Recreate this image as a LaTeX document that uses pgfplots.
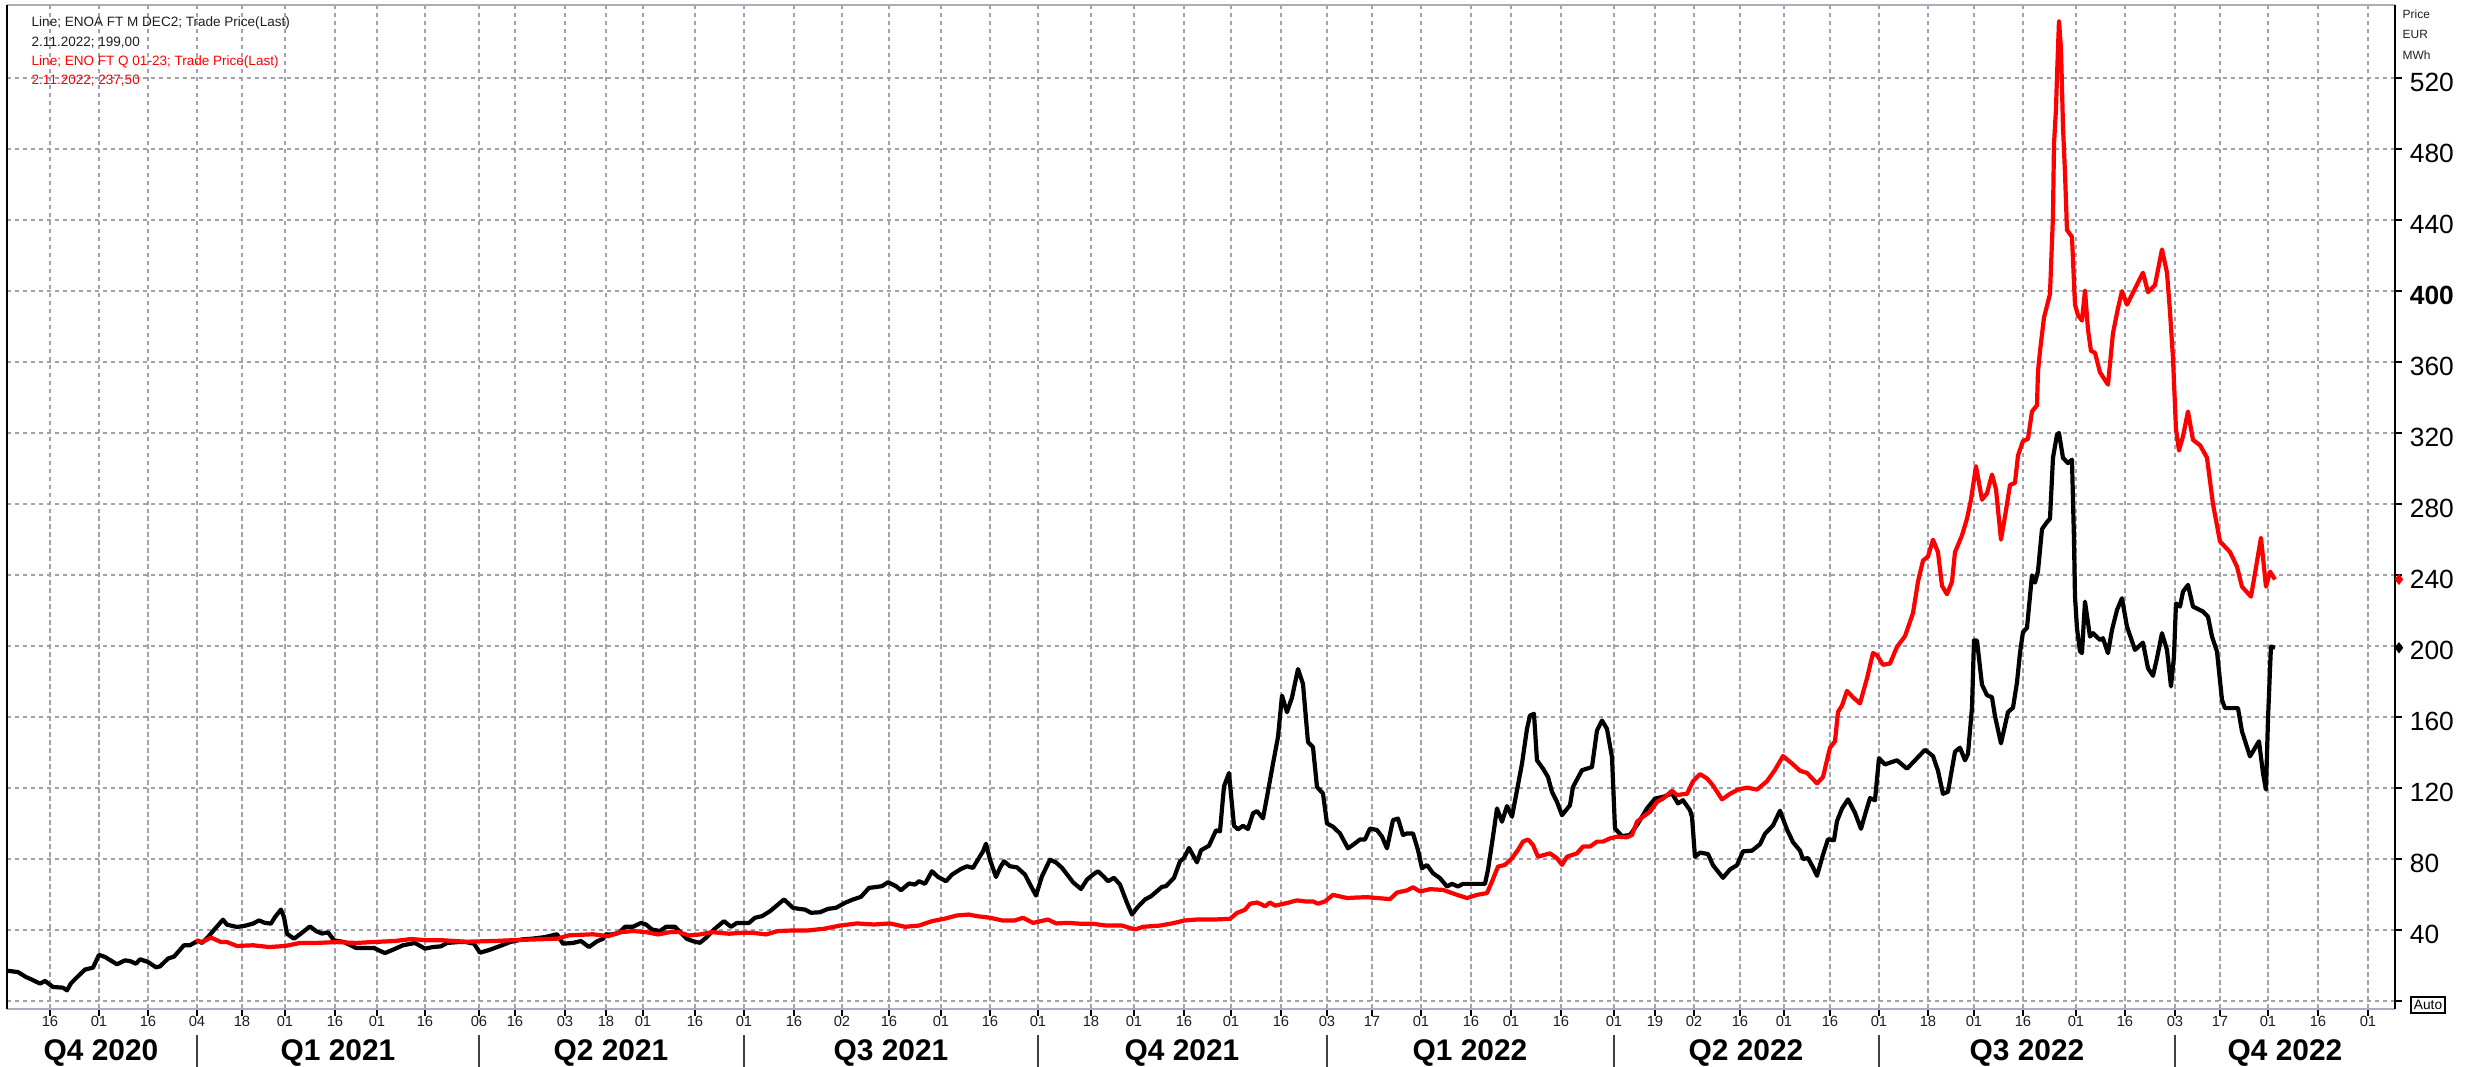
\documentclass[border=0pt]{standalone}
\usepackage{pgfplots}
\pgfplotsset{compat=1.18}
\usepackage{graphicx}
\usepackage{fontspec}
\setmainfont{Liberation Sans}
\definecolor{gridc}{RGB}{160,160,174}
\definecolor{framec}{RGB}{172,172,188}
\definecolor{lgdark}{RGB}{30,30,30}
\newcommand\autolab{{\setlength\fboxsep{0.6pt}\setlength\fboxrule{0.55pt}\fbox{\fontsize{3.9}{4.2}\selectfont Auto}}}
\begin{document}
\begin{tikzpicture}[x=0.1mm,y=0.1mm]
\begin{axis}[
  width=238.8mm, height=100.4mm, scale only axis,
  xmin=7, xmax=2395, ymin=-4.5, ymax=561.1,
  separate axis lines,
  x axis line style={framec, line width=0.15mm},
  y axis line style={black, line width=0.18mm},
  grid=major,
  major grid style={gridc, dash pattern=on 0.45mm off 0.35mm, line width=0.13mm},
  xtick={50,99,148,197,242,285,335,377,425,479,515,565,606,643,695,744,794,842,889,941,990,1038,1091,1134,1184,1231,1281,1327,1372,1421,1471,1511,1561,1614,1655,1694,1740,1784,1830,1879,1928,1974,2023,2076,2125,2175,2220,2268,2318,2368},
  xticklabels={16,01,16,04,18,01,16,01,16,06,16,03,18,01,16,01,16,02,16,01,16,01,18,01,16,01,16,03,17,01,16,01,16,01,19,02,16,01,16,01,18,01,16,01,16,03,17,01,16,01},
  ytick={0,40,...,520},
  yticklabels={\autolab,40,80,120,160,200,240,280,320,360,\textbf{400},440,480,520},
  xtick pos=bottom, ytick pos=right,
  yticklabel pos=right,
  tick align=outside, major tick length=0.7mm,
  tick style={black, line width=0.15mm},
  xticklabel style={font=\fontsize{4.2}{5}\selectfont, text=lgdark, anchor=center, yshift=-0.5mm},
  yticklabel style={font=\fontsize{7.5}{8}\selectfont, anchor=west, xshift=-0.45mm, yshift=-0.4mm},
  clip=false,
]
\coordinate (O) at (rel axis cs:0,0);
\addplot[black, line width=0.42mm, line join=round] coordinates {
(8,17)(18,16.3)(26,13.5)(32,12)(40,9.8)(45,11.3)(53,7.9)(63,7.5)(67,6)(71,10)(79,14.5)(85,17.7)(93,18.8)(99,26)(105,24.8)(117,20.7)(125,22.9)(130,22.5)(136,21)(140,23.5)(148,22)(156,19)(160,19.5)(168,23.9)(174,25)(184,31.4)(190,31.4)(198,34)(202,32.7)(208,36)(215,40.7)(223,45.8)(227,43)(237,41.7)(245,42.4)(253,43.6)(259,45.4)(265,44)(271,43.6)(275,47.3)(281,51.5)(284,47.3)(287,37.9)(294,35.1)(300,37.6)(310,42)(316,39.4)(322,38)(328,38.7)(334,34.2)(344,33.2)(356,29.9)(374,29.9)(379,28.5)(385,27)(393,28.9)(403,31.4)(415,32.7)(425,29.5)(433,30.4)(441,30.8)(447,32.7)(458,33.2)(466,33.2)(474,32.3)(480,27.2)(490,28.9)(502,31.4)(510,33.2)(522,34.7)(532,35.1)(545,36)(557,37.6)(563,32.3)(573,32.7)(581,33.8)(589,30.4)(597,33.6)(603,35.1)(606,37.5)(612,37.5)(619,38.4)(625,41.8)(633,41.8)(641,44)(646,43.1)(652,40.3)(660,39.4)(666,41.8)(675,41.8)(681,38.4)(687,35)(693,33.7)(700,32.8)(706,35.6)(714,40.3)(724,45)(731,41.8)(737,44)(749,44)(755,46.9)(762,47.8)(770,50.6)(776,53.4)(784,57.2)(793,52.5)(799,51.9)(805,51.5)(811,49.7)(820,50)(828,51.9)(836,52.5)(845,55.3)(853,57.2)(861,58.7)(869,63.7)(882,64.7)(888,66.9)(896,64.7)(901,62.4)(909,66.2)(915,65.6)(919,67.5)(925,66)(932,73.1)(938,69.9)(946,67.5)(952,71.2)(961,74.4)(967,75.9)(973,75)(979,80.6)(983,84.3)(986,88.6)(990,79.6)(996,69.9)(1000,75)(1004,78.7)(1010,75.9)(1017,75.3)(1025,71.2)(1031,64.7)(1036,59.4)(1042,70.3)(1050,79.6)(1056,78.1)(1062,75)(1066,72.1)(1073,66.9)(1081,63.1)(1087,68.4)(1093,71.2)(1098,73.1)(1104,69.9)(1108,67.5)(1114,69.4)(1120,65.6)(1127,55.3)(1132,48.7)(1137,52.5)(1145,57.2)(1151,59)(1162,64.3)(1166,64.7)(1174,69.4)(1180,78.7)(1184,80.6)(1189,86.2)(1197,78.1)(1201,84.9)(1209,87.5)(1216,96.1)(1220,95.6)(1224,120.9)(1229,128.4)(1234,98.8)(1238,96.7)(1243,98.7)(1248,96.9)(1253,105.7)(1257,107)(1263,102.9)(1267,115)(1273,133.7)(1278,148.7)(1282,172)(1287,162.7)(1292,171)(1298,187)(1303,178.6)(1308,145.9)(1313,143)(1317,120.6)(1323,116.9)(1327,100)(1333,98.2)(1340,94.4)(1348,86)(1355,88.8)(1360,91)(1365,91)(1370,97.2)(1377,96.3)(1382,92.6)(1387,86)(1393,101.9)(1398,102.8)(1403,93.5)(1407,94.4)(1413,94.4)(1418,85)(1422,74.8)(1427,76.6)(1433,72)(1440,69.2)(1447,64.5)(1452,66)(1458,64.5)(1463,66)(1485,66)(1488,73.9)(1493,92.6)(1497,108.5)(1502,101)(1507,109.8)(1512,103.8)(1517,118.7)(1522,133.7)(1527,153.3)(1530,160.8)(1534,161.8)(1537,135.6)(1543,130.9)(1548,126.2)(1552,117.8)(1557,112.2)(1562,104.7)(1570,110.3)(1573,120.6)(1582,130)(1592,131.8)(1597,152.4)(1602,158)(1607,153.3)(1612,137.4)(1615,97.2)(1622,92.9)(1630,93.5)(1638,100)(1647,108.5)(1655,114)(1663,115)(1672,116.9)(1678,111.3)(1683,113.1)(1690,107.5)(1692,103.8)(1695,81.2)(1700,83.6)(1708,82.8)(1713,76.5)(1723,69.4)(1730,74.1)(1737,76.5)(1743,84.3)(1752,84.7)(1760,88.3)(1765,94.2)(1773,98.9)(1780,107.2)(1787,96.6)(1793,89.5)(1800,84.7)(1803,80)(1808,80.5)(1813,75.3)(1817,70.5)(1823,82.4)(1828,91.1)(1834,90.6)(1837,101.3)(1842,108.4)(1848,113.6)(1855,106)(1861,97)(1865,104.9)(1870,114.3)(1875,113.1)(1879,136.8)(1885,133.3)(1897,135.6)(1907,130.9)(1913,134.4)(1925,141.5)(1933,138)(1938,129.7)(1943,116.7)(1948,117.9)(1955,140.4)(1960,142.7)(1965,135.6)(1968,139.2)(1972,165.2)(1974,203.1)(1977,203.1)(1982,178.2)(1987,172.3)(1992,171.1)(1995,160.5)(2001,145.1)(2008,162.8)(2013,165.2)(2017,179.4)(2020,196)(2023,207.8)(2027,210.2)(2032,239.8)(2035,235.7)(2038,242.1)(2042,265.8)(2047,269.8)(2050,271.7)(2053,306)(2057,319)(2059,320)(2063,306)(2068,303)(2072,305)(2074,260)(2075,228)(2077,210)(2080,197)(2082,196)(2085,225)(2090,205.3)(2093,207.2)(2100,203.4)(2103,204.4)(2108,196)(2112,209)(2117,220.3)(2122,226.9)(2127,210.9)(2135,197.8)(2143,201.9)(2148,187.5)(2153,183.2)(2157,193.1)(2162,207.2)(2167,197.8)(2171,177.2)(2174,194.1)(2176,224)(2180,222.2)(2183,230.6)(2188,234.4)(2193,222.2)(2203,219.4)(2208,216.6)(2212,205.3)(2217,196.9)(2222,169.7)(2225,165)(2238,165)(2242,151.9)(2250,137.8)(2259,146.3)(2263,128.4)(2266,119.1)(2268,158.4)(2270,186.6)(2271,199.7)(2275,199)
};
\addplot[red, line width=0.42mm, line join=round] coordinates {
(196,34.2)(202,33.2)(211,35.7)(221,33.2)(227,33.2)(237,31)(253,31.4)(269,30.4)(285,31)(300,32.7)(316,32.7)(336,33.2)(356,32.7)(372,33.2)(395,33.8)(411,34.9)(427,34.2)(443,34.2)(466,33.4)(494,33.8)(510,34.2)(530,34.6)(557,35.1)(569,37)(593,37.6)(608,36.5)(621,38.8)(633,39.4)(646,38.8)(658,37.5)(670,38.8)(679,38.8)(689,36.9)(700,37.5)(712,38.8)(729,37.9)(741,38.4)(753,38.4)(766,37.5)(778,39.4)(791,39.7)(807,39.7)(824,40.7)(840,42.5)(857,43.7)(874,43.1)(890,43.7)(905,41.8)(919,42.5)(932,45)(944,46.3)(957,48.2)(969,48.7)(977,47.8)(990,46.9)(1002,45.4)(1015,45.4)(1023,46.9)(1033,44)(1048,45.9)(1056,43.7)(1068,44)(1081,43.5)(1093,43.5)(1106,42.5)(1122,42.5)(1135,40.3)(1143,41.8)(1160,42.5)(1172,43.7)(1185,45.4)(1197,45.9)(1214,45.9)(1230,46.3)(1237,49.6)(1245,51.4)(1250,54.8)(1257,55.5)(1262,54.3)(1265,53.3)(1270,55.5)(1275,53.7)(1287,55.2)(1297,56.7)(1305,56.1)(1313,56.1)(1318,54.8)(1325,56.1)(1333,59.8)(1347,58)(1357,58.3)(1367,58.5)(1377,58)(1390,57.4)(1397,61.1)(1407,62.3)(1413,64.1)(1420,61.7)(1430,63)(1443,62.6)(1457,59.8)(1467,58)(1477,59.8)(1487,60.8)(1492,67.3)(1498,75.7)(1505,76.7)(1512,80.4)(1518,85.1)(1523,89.8)(1528,91)(1533,87.9)(1538,81.3)(1550,83.2)(1557,80.4)(1562,76.7)(1567,81.3)(1577,83.2)(1583,87)(1590,87)(1597,89.8)(1603,89.8)(1610,91.6)(1617,92.6)(1627,92.2)(1632,93.5)(1637,101)(1643,103.8)(1650,106.6)(1657,112.2)(1663,114)(1672,118.4)(1677,116)(1683,116.5)(1687,116.7)(1693,123.8)(1700,127.8)(1707,125.4)(1713,121.4)(1722,113.6)(1730,116.7)(1738,119.1)(1747,120.2)(1757,119.1)(1767,123.8)(1775,130.2)(1783,138)(1793,133.3)(1800,129.7)(1807,128.5)(1817,122.6)(1823,126.2)(1830,142.7)(1835,146.3)(1838,162.8)(1842,166.4)(1847,174.7)(1853,171.1)(1860,167.6)(1867,181.8)(1873,196)(1877,194.8)(1883,189.4)(1890,190.1)(1897,199.5)(1905,205.5)(1913,218.5)(1918,236.2)(1923,248.1)(1928,250.4)(1933,259.9)(1938,252.8)(1942,233.9)(1947,229.1)(1952,236.2)(1955,252.8)(1962,262.3)(1967,271.7)(1971,282.4)(1976,301.3)(1982,282.4)(1987,286)(1992,296.6)(1996,288.3)(2001,259.9)(2005,272.9)(2010,290.7)(2015,291.9)(2018,307.3)(2023,315.5)(2028,316.7)(2032,332.1)(2037,335.6)(2038,354.6)(2040,366)(2044,385)(2050,398.3)(2053,442.4)(2054,482.5)(2056,502.6)(2057,520.6)(2059,552)(2061,536.6)(2063,492.5)(2065,466.5)(2067,434.4)(2072,430.4)(2075,392.3)(2078,386.3)(2082,383.3)(2085,400.3)(2088,378.3)(2091,366.2)(2095,365.2)(2100,354.2)(2108,347.2)(2113,376.3)(2118,390.3)(2122,399.9)(2127,392.3)(2135,401.3)(2143,410.3)(2148,399.3)(2155,403.3)(2162,423.4)(2167,410.3)(2170,388.3)(2173,362.2)(2176,322.1)(2179,310.1)(2183,318.1)(2188,332.1)(2193,316.1)(2200,313.1)(2207,306.1)(2213,280)(2220,258.9)(2230,252.9)(2237,244.7)(2242,233.4)(2251,227.8)(2255,240.9)(2261,261)(2266,233.4)(2270,241.9)(2275,237.5)
};
\addplot[only marks, mark=diamond*, mark size=0.45mm, red] coordinates {(2399,237.5)};
\addplot[only marks, mark=diamond*, mark size=0.45mm, black] coordinates {(2399,199)};
\pgfplotsinvokeforeach{197,479,744,1038,1327,1614,1879,2175}{
  \draw[black!75, line width=0.2mm] (axis cs:#1,-19.2) -- (axis cs:#1,-38);
}
\node[font=\fontsize{8.5}{9}\selectfont\bfseries, inner sep=0pt] at (axis cs:101,-29.3) {Q4 2020};
\node[font=\fontsize{8.5}{9}\selectfont\bfseries, inner sep=0pt] at (axis cs:338,-29.3) {Q1 2021};
\node[font=\fontsize{8.5}{9}\selectfont\bfseries, inner sep=0pt] at (axis cs:611,-29.3) {Q2 2021};
\node[font=\fontsize{8.5}{9}\selectfont\bfseries, inner sep=0pt] at (axis cs:891,-29.3) {Q3 2021};
\node[font=\fontsize{8.5}{9}\selectfont\bfseries, inner sep=0pt] at (axis cs:1182,-29.3) {Q4 2021};
\node[font=\fontsize{8.5}{9}\selectfont\bfseries, inner sep=0pt] at (axis cs:1470,-29.3) {Q1 2022};
\node[font=\fontsize{8.5}{9}\selectfont\bfseries, inner sep=0pt] at (axis cs:1746,-29.3) {Q2 2022};
\node[font=\fontsize{8.5}{9}\selectfont\bfseries, inner sep=0pt] at (axis cs:2027,-29.3) {Q3 2022};
\node[font=\fontsize{8.5}{9}\selectfont\bfseries, inner sep=0pt] at (axis cs:2285,-29.3) {Q4 2022};
\end{axis}
\begin{scope}[shift={(O)}, xshift=-0.7mm, yshift=-5.8mm]
\begin{scope}[every node/.style={anchor=west, inner sep=0pt, font=\fontsize{3.85}{4}\selectfont}]
\node[text=lgdark] at (31,1044) {Line; ENOA FT M DEC2; Trade Price(Last)};
\node[text=lgdark] at (31,1024) {2.11.2022; 199,00};
\node[text=red] at (31,1005) {Line; ENO FT Q 01-23; Trade Price(Last)};
\node[text=red] at (31,986) {2.11.2022; 237,50};
\end{scope}
\begin{scope}[every node/.style={anchor=west, inner sep=0pt, font=\fontsize{3.4}{4}\selectfont, text=lgdark}]
\node at (2402,1053) {Price};
\node at (2402,1033) {EUR};
\node at (2402,1012) {MWh};
\end{scope}
\pgfresetboundingbox
\path (0,0) rectangle (2476,1067);
\end{scope}
\end{tikzpicture}
\end{document}
